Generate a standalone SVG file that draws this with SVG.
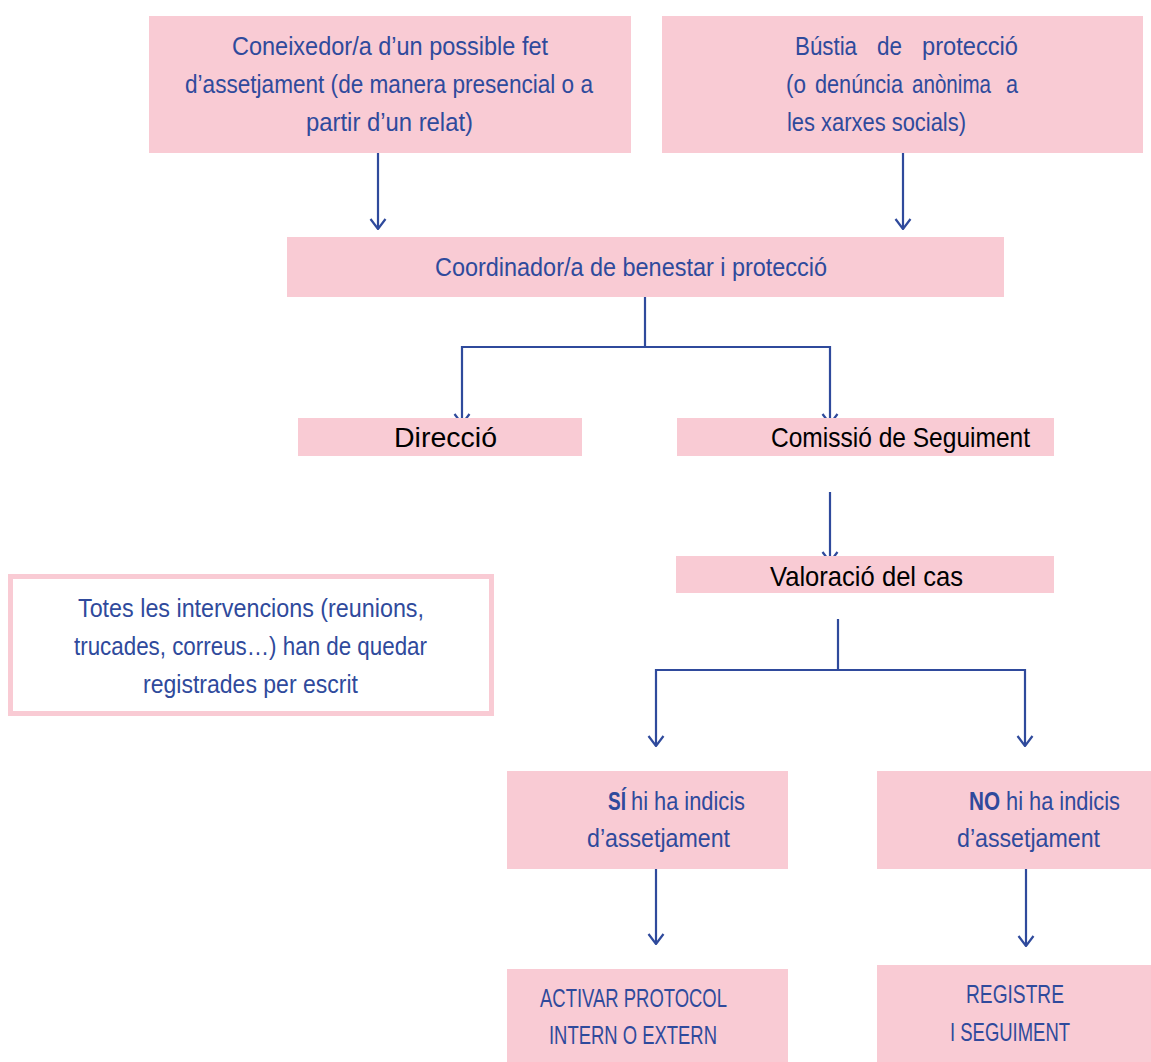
<svg xmlns="http://www.w3.org/2000/svg" width="1151" height="1062" viewBox="0 0 1151 1062">
<style>
.box{fill:#f9cbd4;}
.t{font-family:"Liberation Sans",Arial,sans-serif;font-size:25px;fill:#2f4a9c;}
.b{font-weight:bold;}
.k{font-family:"Liberation Sans",Arial,sans-serif;font-size:28px;fill:#000;}
.c{fill:none;stroke:#2f4a9c;stroke-width:2.2;}
</style>
<defs>
<marker id="ah" viewBox="0 0 12 18" refX="11" refY="9" markerWidth="12" markerHeight="18" markerUnits="userSpaceOnUse" orient="auto-start-reverse">
<path d="M1,1.5 L11,9 L1,16.5" fill="none" stroke="#2f4a9c" stroke-width="2.2"/>
</marker>
</defs>
<rect width="1151" height="1062" fill="#fff"/>
<g id="connectors">
<path class="c" d="M378,153 V229" marker-end="url(#ah)"/>
<path class="c" d="M903,153 V229" marker-end="url(#ah)"/>
<path class="c" d="M645,297 V347"/>
<path class="c" d="M462,424 V347 H830 V424" marker-start="url(#ah)" marker-end="url(#ah)"/>
<path class="c" d="M830,492 V562" marker-end="url(#ah)"/>
<path class="c" d="M838,619 V670"/>
<path class="c" d="M656,746 V670 H1025 V746" marker-start="url(#ah)" marker-end="url(#ah)"/>
<path class="c" d="M656,869 V944" marker-end="url(#ah)"/>
<path class="c" d="M1026,869 V946" marker-end="url(#ah)"/>
</g>
<g id="n1">
<rect class="box" x="149" y="16" width="482" height="137"/>
<text class="t" x="232" y="55" textLength="316" lengthAdjust="spacingAndGlyphs">Coneixedor/a d’un possible fet</text>
<text class="t" x="185" y="93" textLength="408" lengthAdjust="spacingAndGlyphs">d’assetjament (de manera presencial o a</text>
<text class="t" x="306" y="131" textLength="167" lengthAdjust="spacingAndGlyphs">partir d’un relat)</text>
</g>
<g id="n2">
<rect class="box" x="662" y="16" width="481" height="137"/>
<text class="t" x="795" y="55" textLength="62" lengthAdjust="spacingAndGlyphs">Bústia</text>
<text class="t" x="877" y="55" textLength="25" lengthAdjust="spacingAndGlyphs">de</text>
<text class="t" x="922" y="55" textLength="96" lengthAdjust="spacingAndGlyphs">protecció</text>
<text class="t" x="786" y="93" textLength="20" lengthAdjust="spacingAndGlyphs">(o</text>
<text class="t" x="815" y="93" textLength="88" lengthAdjust="spacingAndGlyphs">denúncia</text>
<text class="t" x="912" y="93" textLength="79" lengthAdjust="spacingAndGlyphs">anònima</text>
<text class="t" x="1006" y="93" textLength="12" lengthAdjust="spacingAndGlyphs">a</text>
<text class="t" x="787" y="131" textLength="179" lengthAdjust="spacingAndGlyphs">les xarxes socials)</text>
</g>
<g id="n3">
<rect class="box" x="287" y="237" width="717" height="60"/>
<text class="t" x="435" y="276" textLength="392" lengthAdjust="spacingAndGlyphs">Coordinador/a de benestar i protecció</text>
</g>
<g id="n4">
<rect class="box" x="298" y="418" width="284" height="38"/>
<text class="k" x="394" y="447" textLength="103" lengthAdjust="spacingAndGlyphs">Direcció</text>
</g>
<g id="n5">
<rect class="box" x="677" y="418" width="377" height="38"/>
<text class="k" x="771" y="447" textLength="259" lengthAdjust="spacingAndGlyphs">Comissió de Seguiment</text>
</g>
<g id="n6">
<rect class="box" x="676" y="556" width="378" height="37"/>
<text class="k" x="770" y="586" textLength="193" lengthAdjust="spacingAndGlyphs">Valoració del cas</text>
</g>
<g id="n7">
<rect x="10.5" y="576.5" width="481" height="137" fill="#fff" stroke="#f9cbd4" stroke-width="5"/>
<text class="t" x="78" y="617" textLength="346" lengthAdjust="spacingAndGlyphs">Totes les intervencions (reunions,</text>
<text class="t" x="74" y="655" textLength="353" lengthAdjust="spacingAndGlyphs">trucades, correus…) han de quedar</text>
<text class="t" x="143" y="693" textLength="215" lengthAdjust="spacingAndGlyphs">registrades per escrit</text>
</g>
<g id="n8">
<rect class="box" x="507" y="771" width="281" height="98"/>
<text class="t b" x="608" y="810" textLength="18" lengthAdjust="spacingAndGlyphs">SÍ</text>
<text class="t" x="631" y="810" textLength="114" lengthAdjust="spacingAndGlyphs">hi ha indicis</text>
<text class="t" x="587" y="847" textLength="143" lengthAdjust="spacingAndGlyphs">d’assetjament</text>
</g>
<g id="n9">
<rect class="box" x="877" y="771" width="274" height="98"/>
<text class="t b" x="969" y="810" textLength="31" lengthAdjust="spacingAndGlyphs">NO</text>
<text class="t" x="1006" y="810" textLength="114" lengthAdjust="spacingAndGlyphs">hi ha indicis</text>
<text class="t" x="957" y="847" textLength="143" lengthAdjust="spacingAndGlyphs">d’assetjament</text>
</g>
<g id="n10">
<rect class="box" x="507" y="969" width="281" height="93"/>
<text class="t" x="540" y="1007" textLength="187" lengthAdjust="spacingAndGlyphs">ACTIVAR PROTOCOL</text>
<text class="t" x="549" y="1044" textLength="168" lengthAdjust="spacingAndGlyphs">INTERN O EXTERN</text>
</g>
<g id="n11">
<rect class="box" x="877" y="965" width="274" height="97"/>
<text class="t" x="966" y="1003" textLength="98" lengthAdjust="spacingAndGlyphs">REGISTRE</text>
<text class="t" x="950" y="1041" textLength="120" lengthAdjust="spacingAndGlyphs">I SEGUIMENT</text>
</g>
</svg>
